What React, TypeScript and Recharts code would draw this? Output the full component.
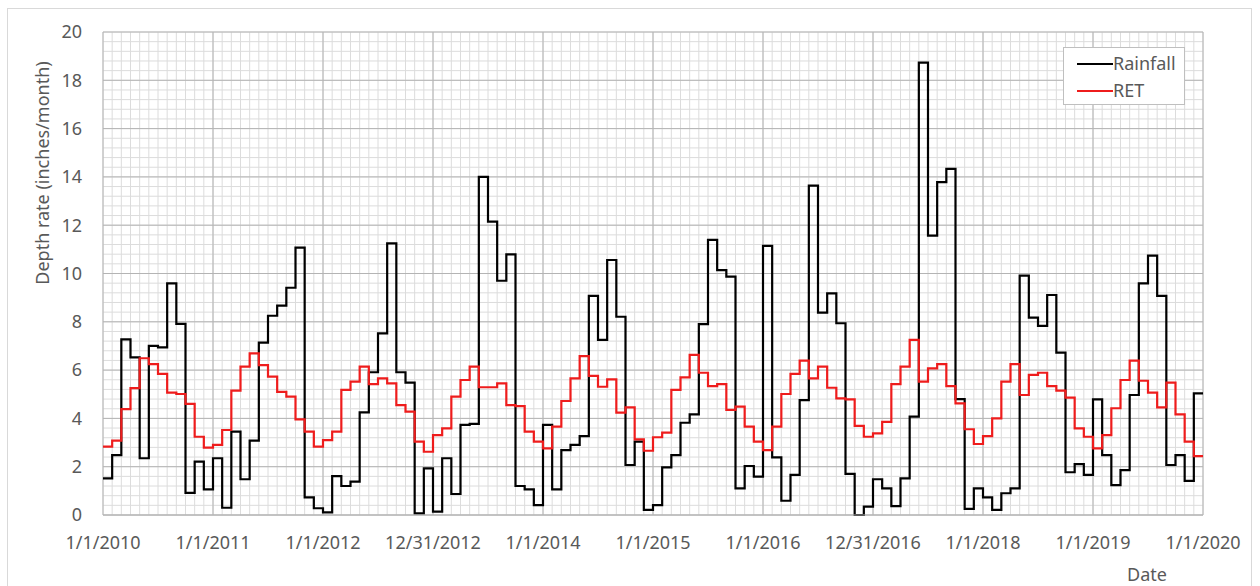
import React from 'react';
import { LineChart, Line, XAxis, YAxis, CartesianGrid, Legend, Label } from 'recharts';

// month index from 1/1/2010 (0) to 1/1/2020 (120)
const DATE_TICKS = [0, 12, 24, 36, 48, 60, 72, 84, 96, 108, 120];
const DATE_LABELS = [
  '1/1/2010', '1/1/2011', '1/1/2012', '12/31/2012', '1/1/2014', '1/1/2015',
  '1/1/2016', '12/31/2016', '1/1/2018', '1/1/2019', '1/1/2020',
];
const DEPTH_TICKS = [0, 2, 4, 6, 8, 10, 12, 14, 16, 18, 20];

const RAINFALL = [
  1.52, 2.48, 7.27, 6.53, 2.35, 7.0, 6.94, 9.59, 7.91, 0.92, 2.21, 1.06,
  2.35, 0.3, 3.45, 1.48, 3.08, 7.14, 8.25, 8.67, 9.41, 11.07, 0.73, 0.28,
  0.11, 1.61, 1.2, 1.38, 4.25, 5.91, 7.52, 11.25, 5.91, 5.48, 0.07, 1.93,
  0.14, 2.35, 0.87, 3.73, 3.77, 14.0, 12.15, 9.7, 10.79, 1.2, 1.06, 0.41,
  3.73, 1.06, 2.69, 2.9, 3.27, 9.07, 7.25, 10.56, 8.21, 2.07, 3.04, 0.21,
  0.41, 1.97, 2.48, 3.82, 4.17, 7.9, 11.39, 10.14, 9.87, 1.1, 2.03, 1.59,
  11.14, 2.39, 0.59, 1.66, 4.76, 13.64, 8.38, 9.18, 7.94, 1.7, 0.0, 0.35,
  1.48, 1.1, 0.37, 1.52, 4.07, 18.73, 11.57, 13.78, 14.33, 4.8, 0.25, 1.1,
  0.73, 0.21, 0.9, 1.1, 9.91, 8.17, 7.83, 9.11, 6.72, 1.77, 2.11, 1.66,
  4.79, 2.48, 1.24, 1.86, 4.97, 9.59, 10.74, 9.07, 2.07, 2.48, 1.41, 5.04,
];

const RET = [
  2.83, 3.08, 4.38, 5.25, 6.49, 6.25, 5.84, 5.07, 5.01, 4.6, 3.24, 2.79,
  2.9, 3.52, 5.15, 6.14, 6.69, 6.21, 5.73, 5.1, 4.9, 3.96, 3.45, 2.83,
  3.1, 3.45, 5.18, 5.52, 6.14, 5.42, 5.66, 5.45, 4.55, 4.28, 3.04, 2.62,
  3.31, 3.59, 4.9, 5.59, 6.14, 5.29, 5.29, 5.45, 4.55, 4.51, 3.45, 3.04,
  2.76, 3.66, 4.72, 5.66, 6.58, 5.76, 5.31, 5.62, 4.24, 4.46, 3.13, 2.66,
  3.22, 3.41, 5.18, 5.7, 6.63, 5.89, 5.34, 5.42, 4.35, 4.49, 3.66, 3.04,
  2.69, 3.66, 5.01, 5.84, 6.39, 5.66, 6.14, 5.27, 4.83, 4.79, 3.69, 3.24,
  3.38, 3.86, 5.42, 6.14, 7.25, 5.52, 6.07, 6.25, 5.34, 4.62, 3.55, 2.94,
  3.27, 4.0, 5.52, 6.25, 4.97, 5.8, 5.89, 5.34, 5.15, 4.86, 3.59, 3.24,
  2.76, 3.31, 4.42, 5.59, 6.39, 5.56, 5.07, 4.46, 5.48, 4.17, 3.04, 2.44,
];

const FONT = '"Noto Sans", sans-serif';
const TEXT_GRAY = '#595959';
const RAIN_COLOR = '#000000';
const RET_COLOR = '#ee1c1c';

// monthly steps; the last month is held until 1/1/2020
const data = RAINFALL.map((r, i) => ({ m: i, rainfall: r, ret: RET[i] }));
data.push({ m: RAINFALL.length, rainfall: RAINFALL[RAINFALL.length - 1], ret: RET[RET.length - 1] });

const minorX = Array.from({ length: 121 }, (_, i) => i);
const minorY = Array.from({ length: 51 }, (_, i) => +(i * 0.4).toFixed(1));

const LegendBox = () => (
  <div
    style={{
      border: '1px solid #bfbfbf',
      background: '#fff',
      width: 122,
      height: 58,
      boxSizing: 'border-box',
      fontFamily: FONT,
      fontSize: 18,
      color: TEXT_GRAY,
      padding: '2px 0 0 13px',
    }}
  >
    {[
      { name: 'Rainfall', color: RAIN_COLOR },
      { name: 'RET', color: RET_COLOR },
    ].map((it) => (
      <div key={it.name} style={{ display: 'flex', alignItems: 'center', height: 27 }}>
        <span style={{ display: 'inline-block', width: 36, height: 2, background: it.color }} />
        <span style={{ lineHeight: '27px' }}>{it.name}</span>
      </div>
    ))}
  </div>
);

export default function App() {
  return (
    <div style={{ position: 'absolute', left: 0, top: 0, width: 1260, height: 586, background: '#fff' }}>
      <div
        style={{
          position: 'absolute',
          left: 7,
          top: 8,
          width: 1245,
          height: 590,
          border: '1px solid #d9d9d9',
          boxSizing: 'border-box',
        }}
      />
      <LineChart
        width={1260}
        height={586}
        data={data}
        margin={{ top: 32, right: 57, bottom: 0, left: 0 }}
        style={{ position: 'absolute', left: 0, top: 0 }}
      >
        <CartesianGrid stroke="#dcdcdc" strokeWidth={1} verticalValues={minorX} horizontalValues={minorY} />
        <CartesianGrid stroke="#b4b4b4" strokeWidth={1} verticalValues={DATE_TICKS} horizontalValues={DEPTH_TICKS} />
        <XAxis
          type="number"
          dataKey="m"
          domain={[0, 120]}
          ticks={DATE_TICKS}
          tickFormatter={(v: number) => DATE_LABELS[DATE_TICKS.indexOf(v)] ?? ''}
          interval={0}
          height={71}
          tickLine={false}
          tickMargin={15}
          axisLine={{ stroke: '#b4b4b4' }}
          tick={{ fill: TEXT_GRAY, fontSize: 18, fontFamily: FONT }}
        >
          <Label
            content={() => (
              <text x={1147} y={574} textAnchor="middle" dominantBaseline="central" fill={TEXT_GRAY} fontSize={18} fontFamily={FONT}>
                Date
              </text>
            )}
          />
        </XAxis>
        <YAxis
          type="number"
          domain={[0, 20]}
          ticks={DEPTH_TICKS}
          interval={0}
          width={103}
          tickLine={false}
          axisLine={false}
          tickMargin={15}
          tick={{ fill: TEXT_GRAY, fontSize: 18, fontFamily: FONT }}
        >
          <Label
            content={() => (
              <text
                x={42}
                y={173}
                transform="rotate(-90 42 173)"
                textAnchor="middle"
                dominantBaseline="central"
                fill={TEXT_GRAY}
                fontSize={18}
                fontFamily={FONT}
              >
                Depth rate (inches/month)
              </text>
            )}
          />
        </YAxis>
        <Legend
          layout="horizontal"
          verticalAlign="middle"
          align="center"
          content={() => <LegendBox />}
          wrapperStyle={{ left: 1063, top: 47, width: 122, height: 58 }}
        />
        <Line
          type="stepAfter"
          dataKey="rainfall"
          name="Rainfall"
          stroke={RAIN_COLOR}
          strokeWidth={2.2}
          dot={false}
          isAnimationActive={false}
        />
        <Line
          type="stepAfter"
          dataKey="ret"
          name="RET"
          stroke={RET_COLOR}
          strokeWidth={2.2}
          dot={false}
          isAnimationActive={false}
        />
      </LineChart>
    </div>
  );
}
